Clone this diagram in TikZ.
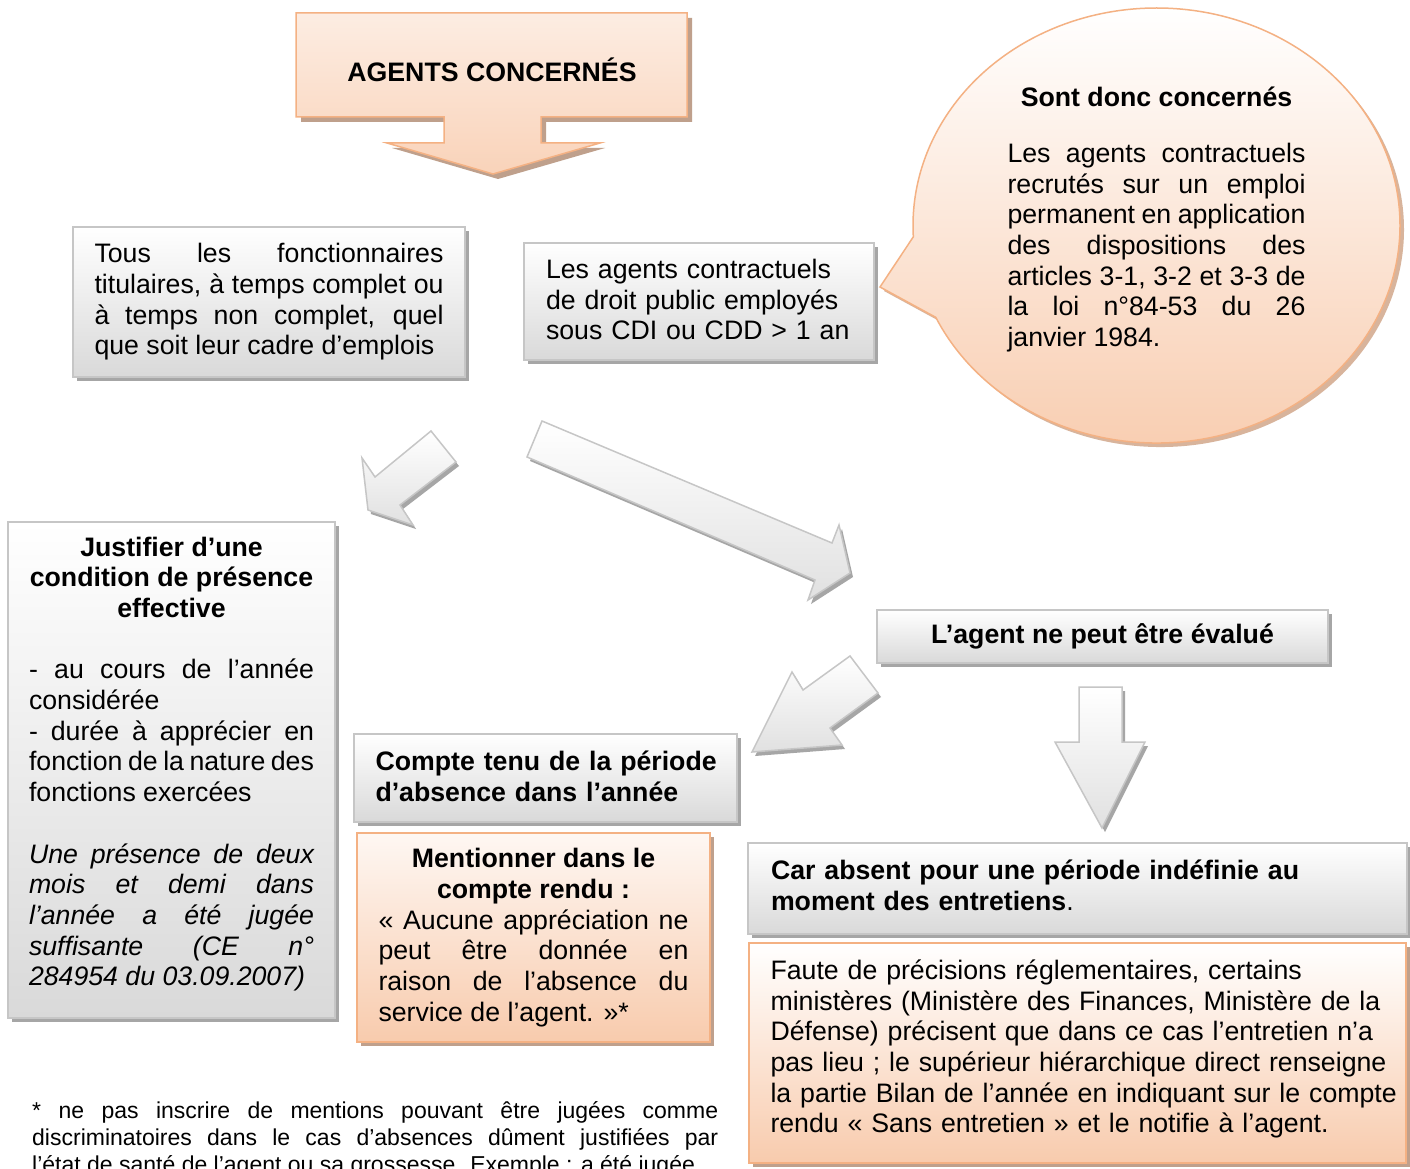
\documentclass[tikz,border=0pt]{standalone}
\usepackage{fontspec}
\setmainfont{Liberation Sans}
\usetikzlibrary{shapes.callouts,shadows}
\definecolor{peachfill}{HTML}{F8CBAD}
\definecolor{peachline}{HTML}{F4B183}
\definecolor{peachshadow}{HTML}{BFA08C}
\definecolor{bubbleshadow}{HTML}{D8B49C}
\definecolor{greyfill}{HTML}{D9D9D9}
\definecolor{greyline}{HTML}{C6C6C6}
\definecolor{greyshadow}{HTML}{A6A6A6}
\newcommand{\boxfont}{\fontsize{26.7}{30.7}\selectfont}
\newcommand{\notefont}{\fontsize{23}{27}\selectfont}

\begin{document}
\begin{tikzpicture}[x=1pt,y=-1pt, every node/.style={font=\boxfont},
    greybox/.style={draw=greyline,line width=1.5pt,top color=white,bottom color=greyfill,
      drop shadow={shadow xshift=4pt,shadow yshift=-4pt,fill=greyshadow,opacity=1},inner ysep=0pt},
    peachbox/.style={draw=peachline,line width=1.5pt,top color=peachfill!15,bottom color=peachfill,
      drop shadow={shadow xshift=4pt,shadow yshift=-4pt,fill=peachshadow,opacity=1},inner ysep=0pt},
    peacharrow/.style={draw=peachline,line width=1.5pt,top color=peachfill!35,bottom color=peachfill!85,
      drop shadow={shadow xshift=5pt,shadow yshift=-5pt,fill=peachshadow,opacity=1}},
    blockarrow/.style={draw=greyline,line width=1.5pt,top color=white,bottom color=greyfill!80,
      drop shadow={shadow xshift=3pt,shadow yshift=-4pt,fill=greyshadow,opacity=1}}]
  \useasboundingbox[fill=white] (0,0) rectangle (1410,1169);

  % title arrow
  \path[peacharrow] (296,13) -- (687,13) -- (687,117) -- (541,117) -- (541,143) -- (600,143)
    -- (493,174) -- (387,143) -- (444,143) -- (444,117) -- (296,117) -- cycle;
  \node[font=\boxfont\bfseries] (agents) at (492,70) {AGENTS CONCERNÉS};

  % who
  \node[greybox,minimum width=392,minimum height=150,text width=349,inner xsep=21.5,align=justify]
    (tous) at (269,302) {Tous les fonctionnaires\linebreak titulaires, à temps complet ou\linebreak
    à temps non complet, quel\linebreak que soit leur cadre d’emplois};
  \node[greybox,minimum width=350,minimum height=117,text width=306,inner xsep=22,align=left]
    (contract) at (699,301.5) {\mbox{Les agents contractuels}\\ \mbox{de droit public employés}\\
    \mbox{sous CDI ou CDD > 1 an}\par\kern4pt};
  \node[ellipse callout,callout absolute pointer={(880,287)},callout pointer arc=22,
    draw=peachline,line width=1.5pt,top color=white,bottom color=peachfill,
    drop shadow={shadow xshift=4pt,shadow yshift=-4pt,fill=bubbleshadow,opacity=1},
    minimum width=487,minimum height=435,text width=298,align=justify]
    (bubble) at (1156.5,225.5) {{\centering\bfseries Sont donc concernés\par}\vspace{25.2pt}
    Les agents contractuels\linebreak recrutés sur un emploi\linebreak permanent en application\linebreak
    des dispositions des\linebreak articles 3-1, 3-2 et 3-3 de\linebreak la loi n°84-53 du 26\linebreak
    janvier 1984.\par\kern12pt};

  % block arrows
  \path[blockarrow] (431,431) -- (456,462) -- (400,505) -- (413,525) -- (368,510) -- (362,458) -- (375,477) -- cycle;
  \path[blockarrow] (542,421) -- (832,543) -- (839,525) -- (850,573) -- (808,600) -- (815,580) -- (527,457) -- cycle;
  \path[blockarrow] (850,656) -- (878,693) -- (830,728) -- (842,745) -- (752,752) -- (792,672) -- (803,690) -- cycle;
  \path[blockarrow] (1079,687) -- (1122,687) -- (1122,742) -- (1145,742) -- (1102,828) -- (1055,742) -- (1079,742) -- cycle;

  % left column
  \node[greybox,minimum width=327,minimum height=496,text width=285,inner xsep=21,align=justify]
    (justif) at (171.5,770) {{\centering\bfseries Justifier d’une\\ condition de présence\\ effective\par}
    \vspace{30.7pt}
    - au cours de l’année\linebreak considérée\par
    - durée à apprécier en\linebreak fonction de la nature des\linebreak fonctions exercées\par
    \vspace{30.7pt}
    {\itshape Une présence de deux\linebreak mois et demi dans\linebreak l’année a été jugée\linebreak
    suffisante (CE n°\linebreak 284954 du 03.09.2007)\par}\kern12pt};

  % middle column
  \node[greybox,minimum width=383,minimum height=88,text width=340,inner xsep=21.5,align=left,
    font=\boxfont\bfseries] (compte) at (545.5,778) {\mbox{Compte tenu de la période}\\
    \mbox{d’absence dans l’année}\par\kern4pt};
  \node[peachbox,minimum width=353,minimum height=209,text width=310,inner xsep=21.5,align=justify]
    (mention) at (533.5,937.5) {{\centering\bfseries Mentionner dans le\\ compte rendu :\par}
    « Aucune appréciation ne\linebreak peut être donnée en\linebreak raison de l’absence du\linebreak
    service de l’agent. »*};

  % right column
  \node[greybox,minimum width=451,minimum height=53,font=\boxfont\bfseries] (evalue) at (1102.5,636.5)
    {L’agent ne peut être évalué};
  \node[greybox,minimum width=659,minimum height=91,text width=613,inner xsep=23,align=left]
    (absent) at (1077.5,888.5) {\mbox{\bfseries Car absent pour une période indéfinie au}\\
    \mbox{\textbf{moment des entretiens}.}\par\kern6pt};
  \node[peachbox,top color=white,minimum width=657,minimum height=220,text width=614,inner xsep=21.5,align=left]
    (faute) at (1077.5,1053) {\mbox{Faute de précisions réglementaires, certains}\\
    \mbox{ministères (Ministère des Finances, Ministère de la}\\
    \mbox{Défense) précisent que dans ce cas l’entretien n’a}\\
    \mbox{pas lieu ; le supérieur hiérarchique direct renseigne}\\
    \mbox{la partie Bilan de l’année en indiquant sur le compte}\\
    \mbox{rendu « Sans entretien » et le notifie à l’agent.}\par\kern8pt};

  % footnote
  \node[font=\notefont,text width=686,align=justify,anchor=base west,inner sep=0pt]
    (note) at (32,1118) {\parfillskip=0pt * ne pas inscrire de mentions pouvant être jugées comme\linebreak
    discriminatoires dans le cas d’absences dûment justifiées par\linebreak
    l’état de santé de l’agent ou sa grossesse. Exemple : a été jugée};
\end{tikzpicture}
\end{document}
